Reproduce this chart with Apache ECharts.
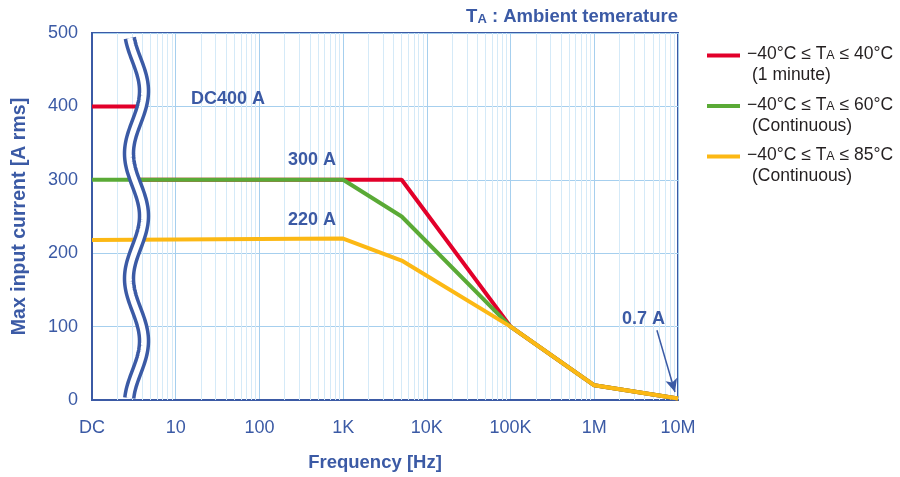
<!DOCTYPE html>
<html>
<head>
<meta charset="utf-8">
<script src="https://cdn.jsdelivr.net/npm/echarts@6/dist/echarts.min.js"></script>
<style>
html,body{margin:0;padding:0;background:#fff;}
#chart{width:900px;height:477px;}
</style>
</head>
<body>
<div id="chart"></div>
<script>
// ---- data ----
const xTickValues = [1, 10, 100, 1000, 10000, 100000, 1000000, 10000000];
const xTickLabels = ['DC', '10', '100', '1K', '10K', '100K', '1M', '10M'];
const seriesNames = ['red', 'green', 'yellow'];
const redFreq   = [1, 3.6, 3.6, 3.6, 1000, 5000, 100000, 1000000, 10000000];
const redAmp    = [400, 400, '-', 300, 300, 300, 100, 20, 2];
const greenFreq = [1, 1000, 5000, 100000, 1000000, 10000000];
const greenAmp  = [300, 300, 250, 100, 20, 2];
const yellowFreq = [1, 1000, 5000, 100000, 1000000, 10000000];
const yellowAmp  = [218, 220, 190, 100, 20, 2];
const minorMultipliers = [2, 3, 4, 5, 6, 7, 8, 9];
const arrowFrom = [5600000, 95];
const arrowTo = [9200000, 11];

const BLUE = '#3b5aa5';
const RED = '#e2002a';
const GREEN = '#5aaa36';
const YELLOW = '#fcb814';
const MAJOR = '#a6cfee';
const MINOR = '#d5eaf8';
const TXT = '#231f20';
const FONT = 'Liberation Sans, Arial, sans-serif';

function zip(a, b) { return a.map((v, i) => [v, b[i]]); }

const minorLines = [];
for (let d = 0; d < xTickValues.length - 1; d++) {
  minorMultipliers.forEach(m => minorLines.push({ xAxis: xTickValues[d] * m }));
}

const chart = echarts.init(document.getElementById('chart'), null, { renderer: 'canvas' });

const gridLeft = 92, gridTop = 33, gridRight = 222, gridBottom = 73;

// wave break decoration (pixels)
function wavePoints() {
  const pts = [];
  for (let y = 38; y <= 398; y += 2) {
    const x = 136.5 + 7.5 * Math.cos((y - 91) / 125 * 2 * Math.PI);
    pts.push([x, y]);
  }
  return pts;
}
const wave = wavePoints();

function legendItem(i, color, l1a, l1b, l2) {
  const y = 55.5 + i * 50.5;
  return [
    { type: 'rect', left: 707, top: y - 2, shape: { width: 33, height: 4 }, style: { fill: color }, z: 10 },
    { type: 'text', left: 747, top: y - 10, z: 10,
      style: {
        text: '{a|' + l1a + '}{s|A}{a|' + l1b + '}\n{b|' + l2 + '}',
        rich: {
          a: { fontSize: 17.5, fontFamily: FONT, fill: TXT, lineHeight: 24, verticalAlign: 'bottom' },
          s: { fontSize: 12.5, fontFamily: FONT, fill: TXT, lineHeight: 24, verticalAlign: 'bottom', padding: [0,0,1,0] },
          b: { fontSize: 17.5, fontFamily: FONT, fill: TXT, lineHeight: 24, padding: [0,0,0,5] }
        }
      } }
  ];
}

function annot(text, left, cy) {
  return { type: 'text', left: left, top: cy - 10, z: 10,
    style: { text: text, fontSize: 18, fontWeight: 'bold', fontFamily: FONT, fill: BLUE } };
}

const option = {
  animation: false,
  backgroundColor: '#fff',
  grid: { left: gridLeft, top: gridTop, right: gridRight, bottom: gridBottom, show: true, borderColor: BLUE, borderWidth: 2, containLabel: false },
  xAxis: {
    type: 'log', logBase: 10, min: 1, max: 10000000,
    axisLine: { show: true, lineStyle: { color: BLUE, width: 2 } },
    axisTick: { show: false },
    axisLabel: {
      color: BLUE, fontSize: 18, margin: 19, fontFamily: FONT,
      formatter: v => { const i = xTickValues.findIndex(t => Math.abs(t - v) / t < 1e-6); return i >= 0 ? xTickLabels[i] : ''; }
    },
    splitLine: { show: true, lineStyle: { color: MAJOR, width: 1 } },
    name: 'Frequency [Hz]', nameLocation: 'middle', nameGap: 53,
    nameTextStyle: { color: BLUE, fontSize: 18.5, fontWeight: 'bold', fontFamily: FONT, padding: [0, 20, 0, 0] }
  },
  yAxis: {
    type: 'value', min: 0, max: 500, interval: 100,
    axisLine: { show: true, lineStyle: { color: BLUE, width: 2 } },
    axisTick: { show: false },
    axisLabel: { color: BLUE, fontSize: 18, margin: 14, fontFamily: FONT },
    splitLine: { show: true, lineStyle: { color: MAJOR, width: 1 } },
    name: 'Max input current [A rms]', nameLocation: 'middle', nameGap: 62, nameRotate: 90,
    nameTextStyle: { color: BLUE, fontSize: 19.5, fontWeight: 'bold', fontFamily: FONT }
  },
  series: [
    { type: 'line', name: 'minor', data: [], silent: true, z: 1,
      markLine: { silent: true, z: 1, symbol: 'none', label: { show: false },
        lineStyle: { color: MINOR, width: 1, type: 'solid' }, data: minorLines, animation: false } },
    { type: 'line', name: seriesNames[0], data: zip(redFreq, redAmp), symbol: 'none', connectNulls: false,
      lineStyle: { color: RED, width: 4 }, itemStyle: { color: RED }, z: 3, clip: false },
    { type: 'line', name: seriesNames[1], data: zip(greenFreq, greenAmp), symbol: 'none',
      lineStyle: { color: GREEN, width: 4 }, itemStyle: { color: GREEN }, z: 4, clip: false },
    { type: 'line', name: seriesNames[2], data: zip(yellowFreq, yellowAmp), symbol: 'none',
      lineStyle: { color: YELLOW, width: 4 }, itemStyle: { color: YELLOW }, z: 5, clip: false,
      markLine: { silent: true, z: 6, symbol: ['none', 'arrow'], symbolSize: [9, 13], label: { show: false },
        lineStyle: { color: BLUE, width: 1.5, type: 'solid' },
        data: [[{ coord: arrowFrom }, { coord: arrowTo }]] } }
  ],
  graphic: [
    { type: 'polyline', shape: { points: wave }, style: { stroke: BLUE, lineWidth: 12.5, fill: null }, z: 20 },
    { type: 'polyline', shape: { points: wave }, style: { stroke: '#fff', lineWidth: 5.5, fill: null }, z: 21 },
    { type: 'text', right: 222, top: 7, z: 10,
      style: { text: '{a|T}{s|A}{a| : Ambient temerature}',
        rich: {
          a: { fontSize: 18.5, fontWeight: 'bold', fontFamily: FONT, fill: BLUE, verticalAlign: 'bottom', lineHeight: 21 },
          s: { fontSize: 13, fontWeight: 'bold', fontFamily: FONT, fill: BLUE, verticalAlign: 'bottom', lineHeight: 21 }
        } } },
    annot('DC400 A', 191, 100),
    annot('300 A', 288, 161),
    annot('220 A', 288, 221),
    annot('0.7 A', 622, 320),
    ...legendItem(0, RED, '\u221240\u00b0C \u2264 T', ' \u2264 40\u00b0C', '(1 minute)'),
    ...legendItem(1, GREEN, '\u221240\u00b0C \u2264 T', ' \u2264 60\u00b0C', '(Continuous)'),
    ...legendItem(2, YELLOW, '\u221240\u00b0C \u2264 T', ' \u2264 85\u00b0C', '(Continuous)')
  ]
};
chart.setOption(option);
</script>
</body>
</html>
